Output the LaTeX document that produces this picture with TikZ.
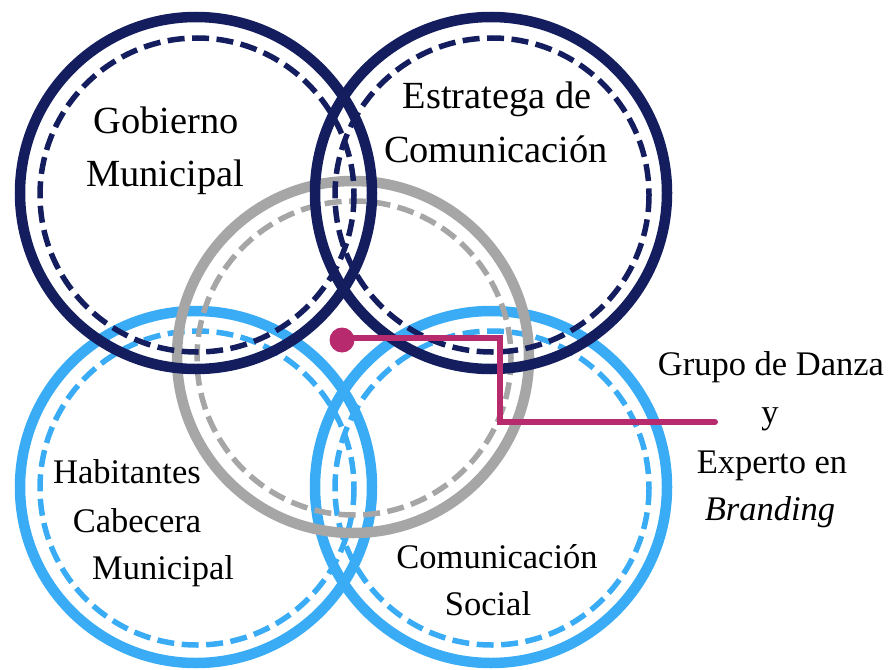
\documentclass[tikz,border=0pt]{standalone}
\usepackage{fontspec}
\setmainfont{Liberation Serif}
\begin{document}
\begin{tikzpicture}[x=1pt,y=-1pt,
  ring/.style={line width=10.5pt},
  dring/.style={line width=5.5pt, dash pattern=on 17pt off 7.5pt},
  lbl/.style={anchor=base, inner sep=0pt, font=\fontsize{34.5}{40}\selectfont},
  biglbl/.style={lbl, font=\fontsize{38.4}{44}\selectfont},
  link/.style={draw=magenta, line width=6pt, line cap=round, line join=miter}]
\definecolor{navy}{RGB}{20,30,95}
\definecolor{lblue}{RGB}{58,172,245}
\definecolor{grayc}{RGB}{166,166,166}
\definecolor{magenta}{RGB}{183,42,110}
\useasboundingbox (0,0) rectangle (891,669);
% light blue
\draw[ring, lblue] (196,487) circle (176);
\draw[dring, lblue] (197,488) circle (157);
\draw[ring, lblue] (491,487) circle (176);
\draw[dring, lblue] (492,488) circle (157);
% gray
\draw[ring, grayc] (353,357) circle (176);
\draw[dring, grayc] (354,358) circle (157);
% navy
\draw[ring, navy] (196,193) circle (176);
\draw[dring, navy] (197,195) circle (157);
\draw[ring, navy] (491,193) circle (176);
\draw[dring, navy] (492,195) circle (157);
% labels
\node[biglbl] (g1) at (166,133) {Gobierno};
\node[biglbl] (g2) at (165,186) {Municipal};
\node[biglbl] (e1) at (497,108) {Estratega de};
\node[biglbl] (e2) at (496,162) {Comunicación};
\node[lbl] (h1) at (127,483) {Habitantes};
\node[lbl] (h2) at (137,532) {Cabecera};
\node[lbl] (h3) at (163,579) {Municipal};
\node[lbl] (c1) at (497,568) {Comunicación};
\node[lbl] (c2) at (488,615) {Social};
\node[lbl] (d1) at (771,375) {Grupo de Danza};
\node[lbl] (d2) at (770,423) {y};
\node[lbl] (d3) at (772,473) {Experto en};
\node[lbl] (d4) at (770,520) {\itshape Branding};
% connector
\fill[magenta] (342,340) circle (12.5) coordinate (dot);
\coordinate (bend1) at (499.5,338);
\coordinate (bend2) at (499.5,422);
\coordinate (lend) at (715,422);
\draw[link] (dot) -- (342,338) -- (bend1) -- (bend2) -- (lend);
\end{tikzpicture}
\end{document}
